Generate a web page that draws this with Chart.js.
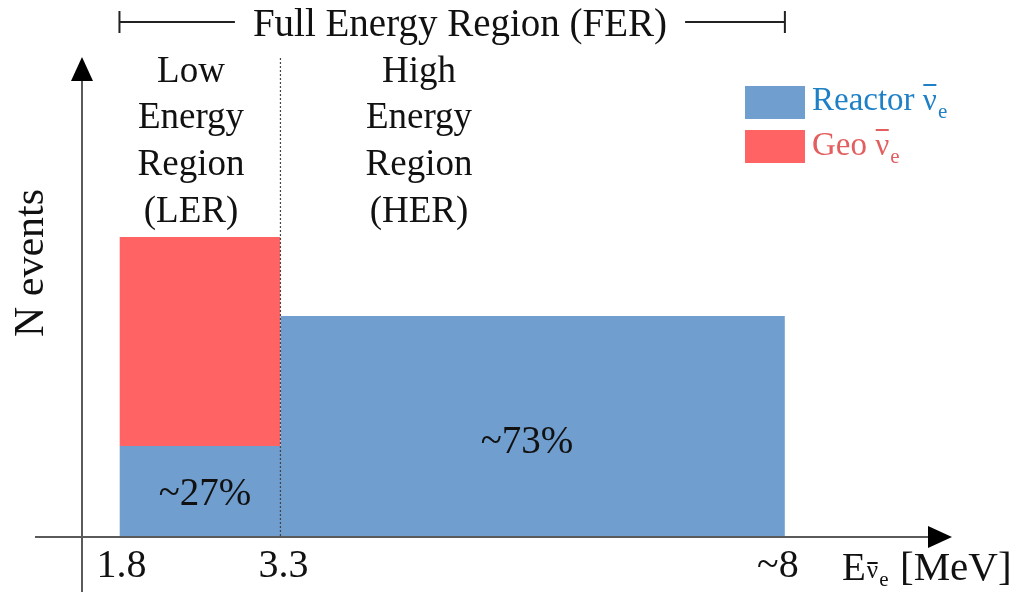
<!DOCTYPE html>
<html>
<head>
<meta charset="utf-8">
<script src="https://cdn.jsdelivr.net/npm/chart.js@4/dist/chart.umd.min.js"></script>
<style>
  html, body { margin: 0; padding: 0; background: #ffffff; }
  #wrap { width: 1020px; height: 595px; position: relative; }
</style>
</head>
<body>
<div id="wrap"><canvas id="c"></canvas></div>
<script>
// ---- data (arbitrary "N events" units) ----
const binEdges = [1.8, 3.3, 8];            // MeV: LER start, LER/HER boundary, HER end
const tickLabels = ['1.8', '3.3', '~8'];
const reactorEvents = [9.1, 22.1];         // LER, HER
const geoEvents = [20.9];                  // LER only (stacked on reactor)
const shareLabels = ['~27%', '~73%'];
const lerLines = ['Low', 'Energy', 'Region', '(LER)'];
const herLines = ['High', 'Energy', 'Region', '(HER)'];
const seriesNames = ['Reactor', 'Geo'];

const BLUE = '#709ecf';
const RED = '#ff6363';
const SERIF = '"Liberation Serif", "DejaVu Serif", serif';

// stepped histogram points for reactor (value held until next edge)
const reactorPts = [
  { x: binEdges[0], y: reactorEvents[0] },
  { x: binEdges[1], y: reactorEvents[1] },
  { x: binEdges[2], y: reactorEvents[1] }
];
const geoTop = reactorEvents[0] + geoEvents[0];
const geoPts = [
  { x: binEdges[0], y: geoTop },
  { x: binEdges[1], y: geoTop }
];

function nuBar(ctx, x, baseline, size, sub, subSize, color, barY) {
  ctx.font = size + 'px ' + SERIF;
  ctx.fillStyle = color;
  ctx.textAlign = 'left';
  ctx.fillText('\u03bd', x, baseline);
  const w = ctx.measureText('\u03bd').width;
  ctx.strokeStyle = color;
  ctx.lineWidth = 2;
  ctx.beginPath();
  ctx.moveTo(x + 0.5, barY);
  ctx.lineTo(x + w - 0.5, barY);
  ctx.stroke();
  ctx.font = subSize + 'px ' + SERIF;
  ctx.fillText(sub, x + w + 1, baseline + subSize * 0.4);
}

const decor = {
  id: 'decor',
  afterDatasetsDraw(chart) {
    const ctx = chart.ctx;
    const xs = chart.scales.x, ys = chart.scales.y;
    const ca = chart.chartArea;
    const x0 = xs.getPixelForValue(binEdges[0]);
    const x1 = xs.getPixelForValue(binEdges[1]);
    const x2 = xs.getPixelForValue(binEdges[2]);
    const yBase = ys.getPixelForValue(0);
    ctx.save();

    // dotted boundary between LER and HER
    ctx.strokeStyle = '#444';
    ctx.lineWidth = 1.2;
    ctx.setLineDash([2, 2]);
    ctx.beginPath();
    ctx.moveTo(x1, ca.top + 1);
    ctx.lineTo(x1, yBase);
    ctx.stroke();
    ctx.setLineDash([]);

    // axes
    ctx.strokeStyle = '#5a5a5a';
    ctx.lineWidth = 2;
    ctx.beginPath();
    ctx.moveTo(35, yBase);
    ctx.lineTo(ca.right - 20, yBase);
    ctx.moveTo(ca.left, 592);
    ctx.lineTo(ca.left, ca.top + 20);
    ctx.stroke();
    ctx.fillStyle = '#000';
    ctx.beginPath();
    ctx.moveTo(ca.right, yBase);
    ctx.lineTo(ca.right - 24, yBase - 11);
    ctx.lineTo(ca.right - 24, yBase + 11);
    ctx.closePath();
    ctx.fill();
    ctx.beginPath();
    ctx.moveTo(ca.left, ca.top);
    ctx.lineTo(ca.left - 11, ca.top + 24);
    ctx.lineTo(ca.left + 11, ca.top + 24);
    ctx.closePath();
    ctx.fill();

    // tick labels
    ctx.fillStyle = '#111';
    ctx.font = '40px ' + SERIF;
    ctx.textAlign = 'center';
    ctx.textBaseline = 'alphabetic';
    const tickOff = [2, 3, -7];
    binEdges.forEach((v, i) => {
      ctx.fillText(tickLabels[i], xs.getPixelForValue(v) + tickOff[i], 577);
    });

    // x axis title  E_{nu-bar e} [MeV]
    ctx.textAlign = 'left';
    ctx.font = '39px ' + SERIF;
    ctx.fillText('E', 842, 580);
    const eW = ctx.measureText('E').width;
    nuBar(ctx, 842 + eW + 1, 578, 25, 'e', 21, '#111', 563);
    ctx.font = '41px ' + SERIF;
    ctx.fillStyle = '#111';
    ctx.fillText('[MeV]', 900, 580);

    // y axis title
    ctx.save();
    ctx.translate(43, 263);
    ctx.rotate(-Math.PI / 2);
    ctx.font = '42px ' + SERIF;
    ctx.textAlign = 'center';
    ctx.fillText('N events', 0, 0);
    ctx.restore();

    // FER bracket
    ctx.font = '39px ' + SERIF;
    ctx.textAlign = 'center';
    const ferText = 'Full Energy Region (FER)';
    const ferCx = 460;
    const ferW = ctx.measureText(ferText).width;
    ctx.fillText(ferText, ferCx, 36);
    ctx.strokeStyle = '#222';
    ctx.lineWidth = 2;
    ctx.beginPath();
    ctx.moveTo(x0, 22); ctx.lineTo(ferCx - ferW / 2 - 18, 22);
    ctx.moveTo(ferCx + ferW / 2 + 18, 22); ctx.lineTo(x2, 22);
    ctx.moveTo(x0, 11); ctx.lineTo(x0, 33);
    ctx.moveTo(x2, 11); ctx.lineTo(x2, 33);
    ctx.stroke();

    // region labels
    ctx.font = '37px ' + SERIF;
    const baselines = [82, 128, 175, 222];
    lerLines.forEach((t, i) => ctx.fillText(t, 191, baselines[i]));
    herLines.forEach((t, i) => ctx.fillText(t, 419, baselines[i]));

    // share labels
    ctx.font = '39px ' + SERIF;
    ctx.fillText(shareLabels[0], 205, 505);
    ctx.fillText(shareLabels[1], 527, 453);

    // legend
    const legendColors = [BLUE, RED];
    const textColors = ['#1f80c6', '#e35f5f'];
    const boxTops = [86, 130];
    const textBase = [110, 155];
    seriesNames.forEach((name, i) => {
      ctx.fillStyle = legendColors[i];
      ctx.fillRect(745, boxTops[i], 60, 33);
      ctx.font = '33px ' + SERIF;
      ctx.textAlign = 'left';
      ctx.fillStyle = textColors[i];
      ctx.fillText(name + ' ', 812, textBase[i]);
      const w = ctx.measureText(name + ' ').width;
      nuBar(ctx, 812 + w, textBase[i], 31, 'e', 21, textColors[i], textBase[i] - 25);
    });

    ctx.restore();
  }
};

new Chart(document.getElementById('c'), {
  type: 'line',
  data: {
    datasets: [
      {
        label: 'Reactor',
        data: reactorPts,
        stepped: 'before',
        fill: 'origin',
        backgroundColor: BLUE,
        borderColor: BLUE,
        borderWidth: 0,
        pointRadius: 0
      },
      {
        label: 'Geo',
        data: geoPts,
        stepped: 'before',
        fill: { value: reactorEvents[0] },
        backgroundColor: RED,
        borderColor: RED,
        borderWidth: 0,
        pointRadius: 0
      }
    ]
  },
  options: {
    responsive: true,
    maintainAspectRatio: false,
    animation: false,
    layout: { padding: { left: 82, right: 68, top: 57, bottom: 58 } },
    plugins: { legend: { display: false }, tooltip: { enabled: false } },
    scales: {
      x: { type: 'linear', min: 1.451, max: 9.557, display: false },
      y: { type: 'linear', min: 0, max: 48, display: false }
    }
  },
  plugins: [decor]
});
</script>
</body>
</html>
